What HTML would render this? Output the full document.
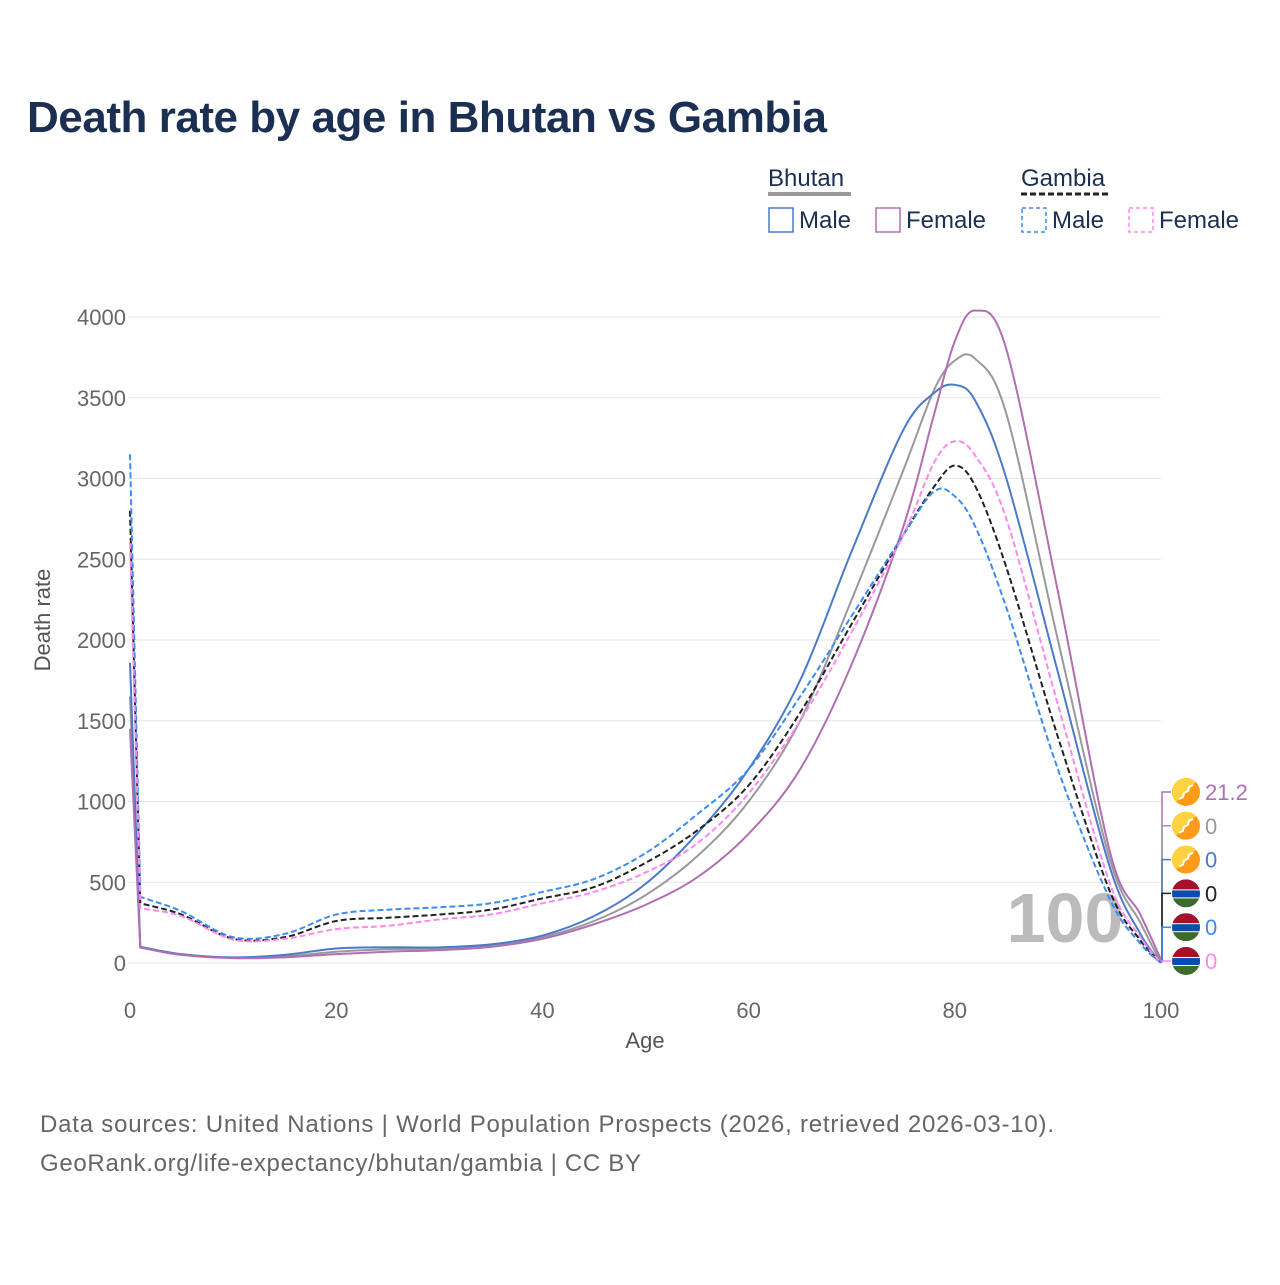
<!DOCTYPE html>
<html><head><meta charset="utf-8"><style>
body{margin:0;background:#fff;font-family:"Liberation Sans",sans-serif}
svg text{font-family:"Liberation Sans",sans-serif}
</style></head><body>
<svg width="1280" height="1280" viewBox="0 0 1280 1280">
<defs id="defs"></defs>
<text x="27" y="132" font-size="44" font-weight="bold" fill="#1b2f52" textLength="800">Death rate by age in Bhutan vs Gambia</text>
<g font-size="24" fill="#1b2f52">
<text x="768" y="186">Bhutan</text>
<line x1="768" y1="194" x2="851" y2="194" stroke="#999" stroke-width="4"/>
<text x="1021" y="186">Gambia</text>
<line x1="1021" y1="194" x2="1109" y2="194" stroke="#222" stroke-width="3" stroke-dasharray="6,3"/>
<g><rect x="769" y="208" width="24" height="24" fill="none" stroke="#4a7ac9" stroke-width="1.5"/><text x="799" y="228">Male</text></g>
<g><rect x="876" y="208" width="24" height="24" fill="none" stroke="#b06fb0" stroke-width="1.5"/><text x="906" y="228">Female</text></g>
<g><rect x="1022" y="208" width="24" height="24" fill="none" stroke="#3b8cf5" stroke-width="1.5" stroke-dasharray="4,3"/><text x="1052" y="228">Male</text></g>
<g><rect x="1129" y="208" width="24" height="24" fill="none" stroke="#ff88ee" stroke-width="1.5" stroke-dasharray="4,3"/><text x="1159" y="228">Female</text></g>
</g>
<g id="grid"></g>
<text x="1065" y="942" font-size="70" font-weight="bold" fill="#bbb" text-anchor="middle">100</text>
<g id="axes"></g>
<g id="lines"></g>
<g id="labels"></g>
<text x="645" y="1048" font-size="22" fill="#555" text-anchor="middle">Age</text>
<text transform="translate(50,620) rotate(-90)" font-size="22" fill="#555" text-anchor="middle">Death rate</text>
<text x="40" y="1132" font-size="24" fill="#666" textLength="1014">Data sources: United Nations | World Population Prospects (2026, retrieved 2026-03-10).</text>
<text x="40" y="1171" font-size="24" fill="#666" textLength="601">GeoRank.org/life-expectancy/bhutan/gambia | CC BY</text>
</svg>
<script>
const xTicks=[0,20,40,60,80,100];
const yTicks=[0,500,1000,1500,2000,2500,3000,3500,4000];
const ages=[0,1,5,10,15,20,25,30,35,40,45,50,55,60,65,70,75,78,80,82,85,90,95,98,100];
const bhutanTotal=[1650,97,52,32,40,70,85,90,110,160,260,420,660,1000,1500,2250,3050,3550,3730,3740,3400,2000,650,250,0];
const bhutanMale=[1860,100,55,35,50,90,97,97,115,170,290,490,800,1200,1750,2550,3300,3530,3580,3480,3000,1800,600,180,0];
const bhutanFemale=[1450,95,50,30,35,55,70,80,100,150,240,360,530,800,1200,1850,2700,3400,3850,4040,3800,2300,700,300,21.2];
const gambiaTotal=[2800,370,300,150,160,260,280,300,330,400,470,620,820,1100,1550,2100,2650,2950,3080,2950,2450,1400,450,140,0];
const gambiaMale=[3150,410,320,160,180,300,330,345,370,440,520,680,920,1200,1650,2150,2650,2920,2890,2700,2200,1200,400,120,0];
const gambiaFemale=[2600,340,290,145,150,210,230,270,300,370,440,560,740,1050,1500,2050,2650,3100,3230,3140,2750,1600,500,160,0];
const X=v=>130+v*10.31, Y=v=>963-v*0.1615;
const NS="http://www.w3.org/2000/svg";
function mk(t,a,p){const e=document.createElementNS(NS,t);for(const k in a)e.setAttribute(k,a[k]);p.appendChild(e);return e;}
const grid=document.getElementById('grid'),axes=document.getElementById('axes');
yTicks.forEach(t=>{
 const l=mk('line',{x1:128,x2:1161,y1:Y(t),y2:Y(t),stroke:'#e6e6e6','stroke-width':1},grid);
 
 
 const tx=mk('text',{x:126,y:Y(t)+8,'font-size':22,fill:'#666','text-anchor':'end'},axes);tx.textContent=t;
 
 
});
xTicks.forEach(t=>{
 const tx=mk('text',{x:X(t),y:1018,'font-size':22,fill:'#666','text-anchor':'middle'},axes);tx.textContent=t;
 
 
});
function path(vals){
 const p=ages.map((a,i)=>[X(a),Y(vals[i])]);
 let d='M'+p[0][0]+','+p[0][1];
 for(let i=0;i<p.length-1;i++){
  const p0=p[Math.max(0,i-1)],p1=p[i],p2=p[i+1],p3=p[Math.min(p.length-1,i+2)];
  if(i==0){d+='L'+p2[0]+','+p2[1];continue;}
  const c1=[p1[0]+(p2[0]-p0[0])/6,p1[1]+(p2[1]-p0[1])/6];
  const c2=[p2[0]-(p3[0]-p1[0])/6,p2[1]-(p3[1]-p1[1])/6];
  if(i==1){c1[0]=p1[0]+(p2[0]-p1[0])/3;c1[1]=p1[1]+(p2[1]-p1[1])/3;}
  d+='C'+c1+' '+c2+' '+p2;
 }
 return d;
}
const series=[
 [bhutanTotal,'#999',null,'line-bhutan-total'],
 [bhutanMale,'#4a7ac9',null,'line-bhutan-male'],
 [bhutanFemale,'#b06fb0',null,'line-bhutan-female'],
 [gambiaTotal,'#222','6,3','line-gambia-total'],
 [gambiaMale,'#3b8cf5','6,3','line-gambia-male'],
 [gambiaFemale,'#ff88ee','6,3','line-gambia-female']];
const lines=document.getElementById('lines');
series.forEach(s=>{
 const a={d:path(s[0]),fill:'none',stroke:s[1],'stroke-width':2};
 if(s[2])a['stroke-dasharray']=s[2];
 const e=mk('path',a,lines);
 
 
});
const labels=document.getElementById('labels'),defs=document.getElementById('defs');
const order=[[bhutanFemale,'#b06fb0','b'],[bhutanTotal,'#999','b'],[bhutanMale,'#4a7ac9','b'],[gambiaTotal,'#222','g'],[gambiaMale,'#3b8cf5','g'],[gambiaFemale,'#ff88ee','g']];
order.forEach((o,i)=>{
 const ly=792+i*33.8, last=o[0][o[0].length-1], cx=1186, r=14;
 const cp=mk('clipPath',{id:'fc'+i},defs);
 mk('circle',{cx:cx,cy:ly,r:r},cp);
 const g=mk('g',{},labels);
 
 
 mk('path',{d:`M1162,${Y(last)} L1162,${ly} L1171,${ly}`,fill:'none',stroke:o[1],'stroke-width':1.5},g);
 const f=mk('g',{'clip-path':`url(#fc${i})`},g);
 if(o[2]=='b'){
  mk('rect',{x:cx-r,y:ly-r,width:28,height:28,fill:'#ff9a1a'},f);
  mk('path',{d:`M${cx-r},${ly+r} L${cx-r},${ly-r} L${cx+r},${ly-r}Z`,fill:'#ffd23f'},f);
  mk('path',{d:`M${cx-7},${ly+7} l4,-2 l1,-4 l4,-2 l1,-4 l4,-2`,fill:'none',stroke:'#fff','stroke-width':2},f);
 }else{
  mk('rect',{x:cx-r,y:ly-r,width:28,height:28,fill:'#3d6b2a'},f);
  mk('rect',{x:cx-r,y:ly-r,width:28,height:10,fill:'#a6102a'},f);
  mk('rect',{x:cx-r,y:ly-4,width:28,height:9,fill:'#fff'},f);
  mk('rect',{x:cx-r,y:ly-3,width:28,height:7,fill:'#0c4bb0'},f);
 }
 const t=mk('text',{x:1205,y:ly+8,'font-size':22,fill:o[1]},g);
 t.textContent=String(last);
});
</script>
</body></html>
